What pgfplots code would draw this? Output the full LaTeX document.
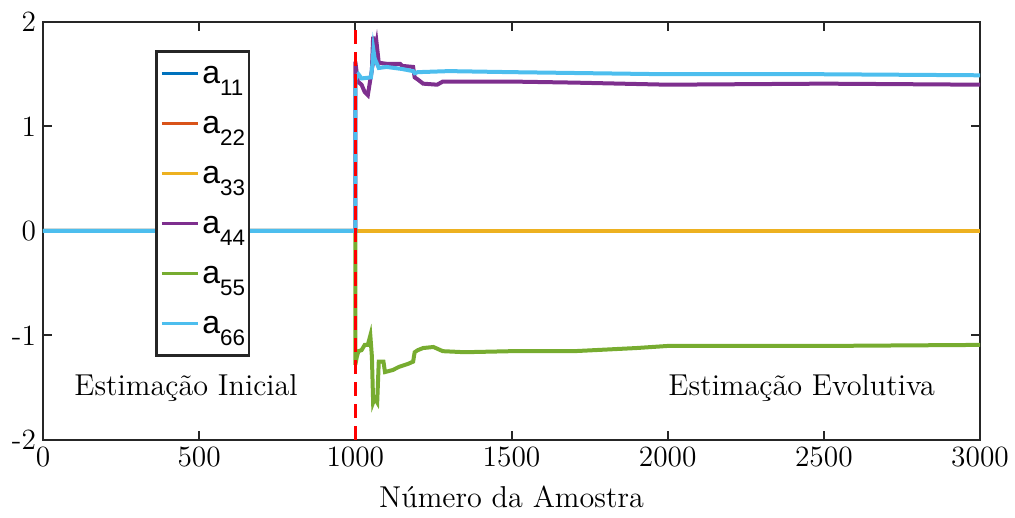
\documentclass[border=0pt]{standalone}
\usepackage{fontspec}
\usepackage{pgfplots}
\pgfplotsset{compat=1.18}
\newfontfamily\helv{Liberation Sans}
\newfontfamily\lmtw{lmroman12-regular.otf}
\definecolor{c1}{rgb}{0,0.447,0.741}
\definecolor{c2}{rgb}{0.85,0.325,0.098}
\definecolor{c3}{rgb}{0.929,0.694,0.125}
\definecolor{c4}{rgb}{0.494,0.184,0.556}
\definecolor{c5}{rgb}{0.466,0.674,0.188}
\definecolor{c6}{rgb}{0.301,0.745,0.933}
\definecolor{axc}{rgb}{0.15,0.15,0.15}
\newcommand{\lgent}[1]{{\helv\fontsize{16}{18}\selectfont a\raisebox{-6pt}{\fontsize{11.2}{12}\selectfont #1}}}
\begin{document}
\begin{tikzpicture}
\begin{axis}[
  scale only axis,
  width=468.5pt, height=209pt,
  xmin=0, xmax=3000, ymin=-2, ymax=2,
  xtick={0,500,1000,1500,2000,2500,3000},
  xticklabels={0,500,1000,1500,2000,2500,3000},
  ytick={-2,-1,0,1,2},
  yticklabels={-2,-1,0,1,2},
  scaled x ticks=false,
  tick align=inside,
  major tick length=4.5pt,
  axis line style={axc, line width=1.3pt},
  every tick/.style={axc, line width=1pt},
  tick label style={font=\fontsize{14.7}{17}\selectfont, text=black},
  xlabel={N\'umero da Amostra},
  xlabel style={font=\lmtw\fontsize{15.1}{17}\selectfont, at={(axis description cs:0.5,0)}, anchor=base, yshift=-33.5pt},
  clip=true,
  legend image code/.code={\draw[#1, line width=1.5pt] (0pt,2.5pt) -- (18pt,2.5pt);},
  legend style={
    draw=axc, line width=1.3pt, fill=white,
    at={(rel axis cs:0.1195,0.933)}, anchor=north west,
    inner xsep=2pt, inner ysep=1pt,
    row sep=0pt, column sep=1.5pt,
    cells={anchor=west},
    nodes={inner sep=0pt, text height=15pt, text depth=10pt},
  },
]
\addplot[c1, line width=2pt] coordinates {(0,0) (3000,0)};
\addlegendentry{\lgent{11}}
\addplot[c2, line width=2pt] coordinates {(0,0) (3000,0)};
\addlegendentry{\lgent{22}}
\addplot[c3, line width=2pt] coordinates {(0,0) (3000,0)};
\addlegendentry{\lgent{33}}
\addplot[c4, line width=2pt] coordinates {
(0,0) (1000,0) (1000,1.62) (1008,1.43) (1020,1.40) (1030,1.33) (1040,1.30)
(1048,1.45) (1053,1.54) (1057,1.86) (1062,1.70) (1068,1.80) (1075,1.61)
(1100,1.60) (1143,1.60) (1150,1.58) (1185,1.57) (1190,1.47) (1200,1.45)
(1217,1.41) (1262,1.40) (1280,1.43) (1400,1.43) (1500,1.43) (1700,1.42)
(2000,1.40) (2500,1.41) (3000,1.40)};
\addlegendentry{\lgent{44}}
\addplot[c5, line width=2pt] coordinates {
(0,0) (1000,0) (1000,-1.28) (1005,-1.20) (1010,-1.15) (1020,-1.14) (1030,-1.09)
(1040,-1.09) (1048,-1.00) (1053,-1.20) (1057,-1.64) (1062,-1.60) (1070,-1.64)
(1075,-1.25) (1090,-1.25) (1095,-1.35) (1120,-1.33) (1140,-1.30) (1170,-1.27)
(1185,-1.25) (1190,-1.16) (1200,-1.14) (1217,-1.12) (1250,-1.11) (1280,-1.15)
(1350,-1.16) (1500,-1.15) (1700,-1.15) (1900,-1.12) (2000,-1.10) (2500,-1.10)
(3000,-1.09)};
\addlegendentry{\lgent{55}}
\addplot[c6, line width=2pt] coordinates {
(0,0) (1000,0) (1000,1.45) (1010,1.50) (1020,1.46) (1050,1.47) (1055,1.60)
(1058,1.73) (1062,1.65) (1075,1.56) (1100,1.57) (1150,1.55) (1185,1.53)
(1190,1.51) (1200,1.52) (1300,1.53) (1500,1.52) (2000,1.50) (2500,1.50)
(3000,1.49)};
\addlegendentry{\lgent{66}}
\addplot[red, line width=1.5pt, dash pattern=on 7pt off 4pt, forget plot] coordinates {(1000,-2) (1000,2)};
\node[anchor=base, font=\lmtw\fontsize{15.1}{17}\selectfont] at (axis cs:458,-1.57) {Estimação Inicial};
\node[anchor=base, font=\lmtw\fontsize{15.1}{17}\selectfont] at (axis cs:2429,-1.57) {Estimação Evolutiva};
\end{axis}
\pgfresetboundingbox
\path ([shift={(-21.5pt,-39pt)}]current axis.south west) rectangle ([shift={(17.5pt,11pt)}]current axis.north east);
\end{tikzpicture}
\end{document}
